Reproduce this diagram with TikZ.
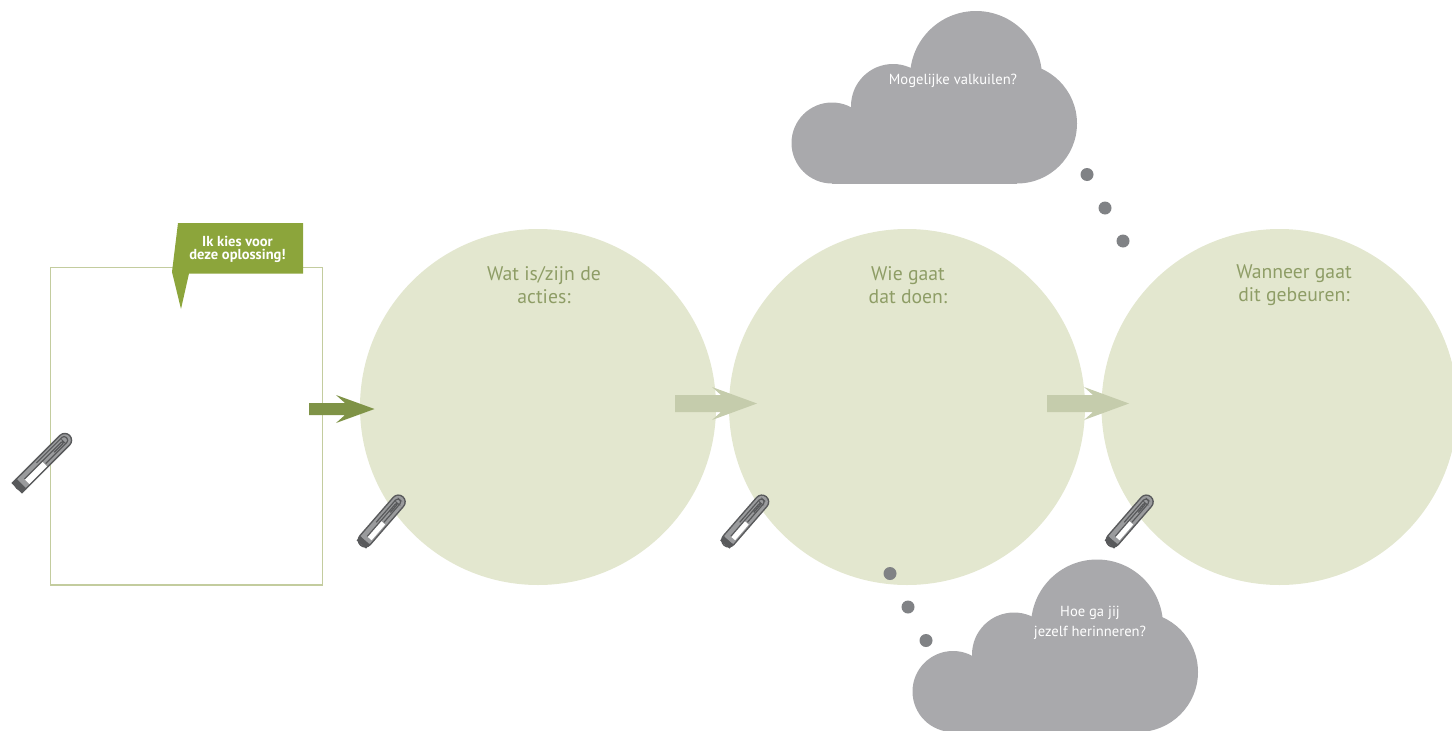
\documentclass[tikz,border=0pt]{standalone}
\usepackage{fontspec}
\setmainfont{PT Sans}
\definecolor{disc}{HTML}{E3E7CF}
\definecolor{titlegreen}{HTML}{8E9D66}
\definecolor{framegreen}{HTML}{C3CC9E}
\definecolor{flaggreen}{HTML}{8CA53B}
\definecolor{arrowdark}{HTML}{7F9347}
\definecolor{arrowpale}{HTML}{C5CCAC}
\definecolor{cloudgrey}{HTML}{A9A9AC}
\definecolor{dotgrey}{HTML}{808285}
\definecolor{clipdark}{HTML}{58595B}
\definecolor{clipmid}{HTML}{9A9B9D}
\tikzset{
  x=1pt,y=-1pt,
  discnode/.style={circle,fill=disc,minimum size=356pt,inner sep=0pt},
  disctitle/.style={text=titlegreen,font=\fontsize{19.7}{23}\selectfont,align=center,inner sep=0pt},
  cloudtext/.style={text=white,font=\fontsize{14.6}{20}\selectfont,align=center,inner sep=0pt},
  flagtext/.style={text=white,font=\fontsize{14.5}{13}\selectfont\bfseries,align=center,inner sep=0pt},
  dotnode/.style={circle,fill=dotgrey,minimum size=13pt,inner sep=0pt},
  cloudshape/.pic={
    \fill[cloudgrey] (832,143) circle[radius=40.5];
    \fill[cloudgrey] (893,106) circle[radius=42];
    \fill[cloudgrey] (976,77) circle[radius=66];
    \fill[cloudgrey] (1017,123.5) circle[radius=60];
    \fill[cloudgrey] (832,110) rectangle (1017,183.5);
  },
  clip shape/.pic={
    \draw[clipdark,line width=15pt,line cap=round] (3,0) -- (64,0);
    \draw[clipmid,line width=12pt,line cap=round] (3,0) -- (64,0);
    \fill[clipdark] (-4,-7.5) rectangle (3,7.5);
    \fill[clipmid] (3,-6) rectangle (8,6);
    \fill[white] (8,-1) rectangle (33,6);
    \draw[clipdark,line width=1.2pt,rounded corners=3pt] (28,-4) -- (67,-4) -- (67,3) -- (34,3);
    \draw[clipdark,line width=1.2pt,rounded corners=2pt] (8,-1) -- (62,-1) -- (62,1) -- (48,1);
  }
}
\begin{document}
\begin{tikzpicture}
\useasboundingbox (0,0) rectangle (1452,731);
% frame
\node[draw=framegreen,line width=1.4pt,minimum width=272pt,minimum height=317.5pt,inner sep=0pt,anchor=north west] (frame) at (49.6,266.8) {};
% discs
\node[discnode] (d1) at (538,407) {};
\node[discnode] (d2) at (907,407) {};
\node[discnode] (d3) at (1279.5,407) {};
\node[disctitle] (t1) at (544,285.5) {Wat is/zijn de\\acties:};
\node[disctitle] (t2) at (908,285.5) {Wie gaat\\dat doen:};
\node[disctitle] (t3) at (1294,285.5) {Wanneer gaat\\dit gebeuren:};
% flag
\fill[flaggreen] (178,223) -- (303,223) -- (303,273.5) -- (189,273.5) -- (181,309) -- (172,272) -- cycle;
\node[flagtext] (flag) at (237.5,249.5) {Ik kies voor\\deze oplossing!};
% arrows
\fill[arrowdark] (309,403) -- (345,403) -- (336,395) -- (374.5,409) -- (336,423) -- (345,415) -- (309,415) -- cycle;
\fill[arrowpale] (675,395) -- (721,395) -- (712,387) -- (757,403.5) -- (712,420) -- (721,412) -- (675,412) -- cycle;
\fill[arrowpale] (1047,395) -- (1093,395) -- (1084,387) -- (1129,403.5) -- (1084,420) -- (1093,412) -- (1047,412) -- cycle;
% clouds
\pic at (0,0) {cloudshape};
\pic at (121,548.5) {cloudshape};
\node[cloudtext] (c1) at (953,81) {Mogelijke valkuilen?};
\node[cloudtext] (c2) at (1090,623) {Hoe ga jij\\jezelf herinneren?};
% dots
\node[dotnode] (a1) at (1087,174.5) {};
\node[dotnode] (a2) at (1105,208) {};
\node[dotnode] (a3) at (1123,241) {};
\node[dotnode] (b1) at (890,573.5) {};
\node[dotnode] (b2) at (908,607) {};
\node[dotnode] (b3) at (926,640.5) {};
% clips
\pic[rotate=45,scale=1] at (19.5,485.5) {clip shape};
\pic[rotate=49,scale=0.83] at (363.5,542) {clip shape};
\pic[rotate=49,scale=0.83] at (727,542) {clip shape};
\pic[rotate=49,scale=0.83] at (1111.5,542) {clip shape};
\end{tikzpicture}
\end{document}
